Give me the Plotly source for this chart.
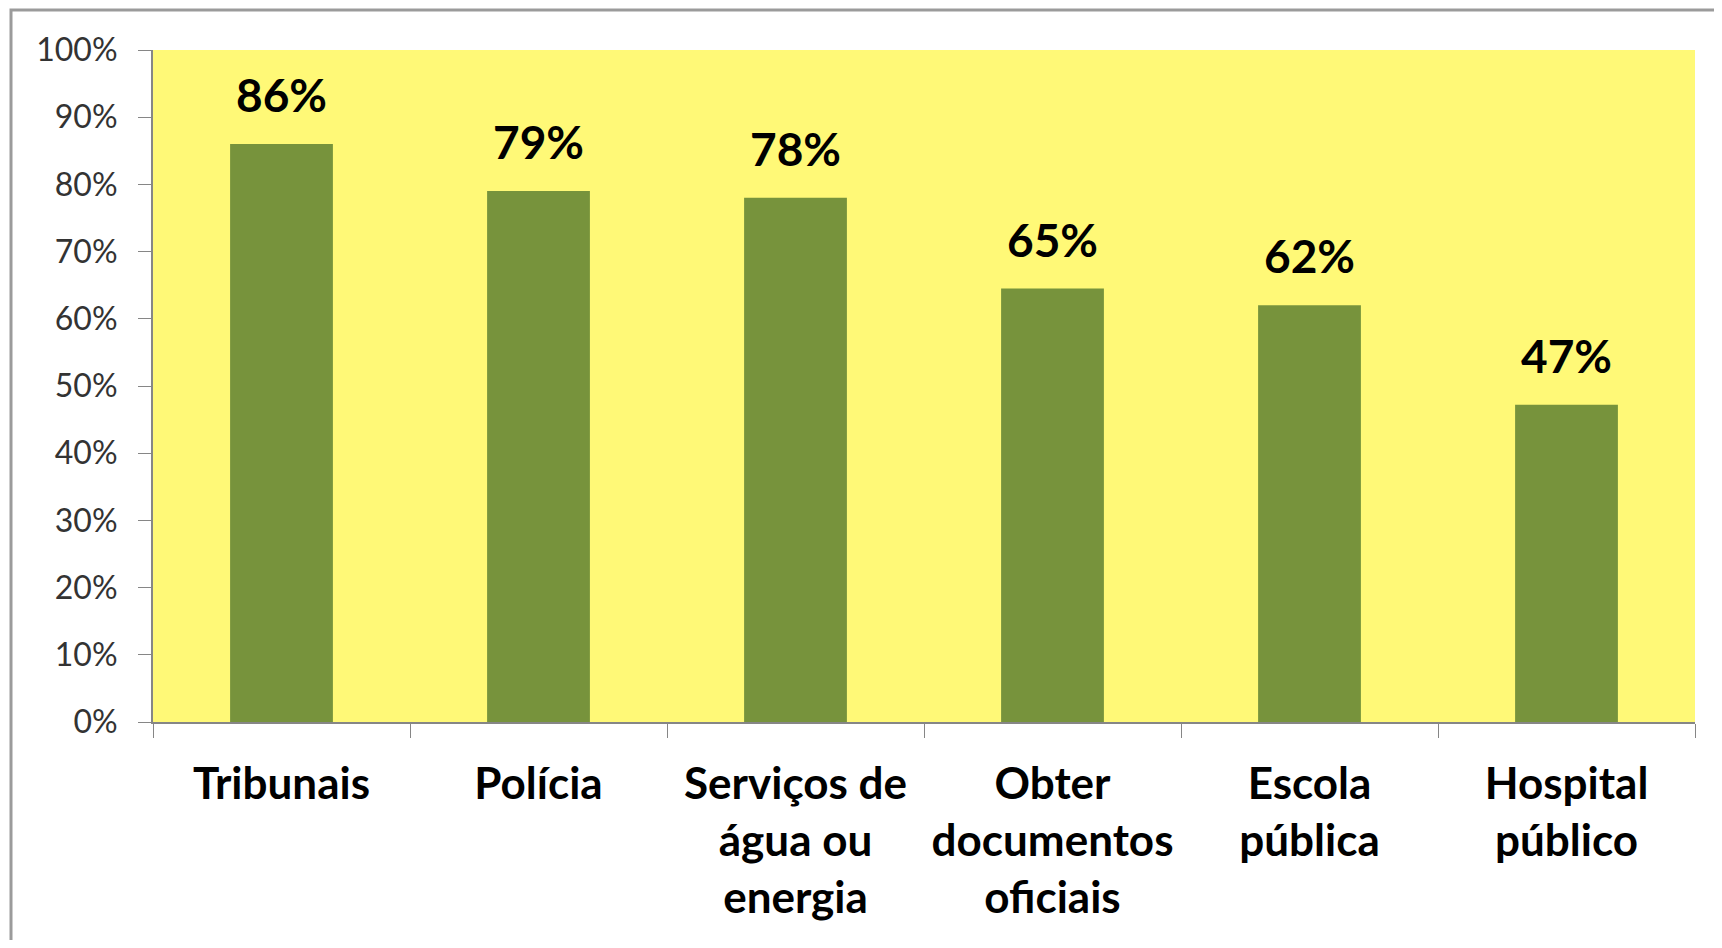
import plotly.graph_objects as go

# Data
categories = ["Tribunais", "Polícia", "Serviços de água ou energia",
              "Obter documentos oficiais", "Escola pública", "Hospital público"]
tick_labels = ["Tribunais", "Polícia", "Serviços de<br>água ou<br>energia",
               "Obter<br>documentos<br>oficiais", "Escola<br>pública", "Hospital<br>público"]
values = [0.86, 0.79, 0.78, 0.645, 0.62, 0.472]
value_labels = ["86%", "79%", "78%", "65%", "62%", "47%"]

FONT = "Lato, 'Open Sans', sans-serif"
# the page body adds an 8px margin, so the figure is a bit smaller than the window
PAD = 8
W, H = 1722 - 2 * PAD, 948 - 2 * PAD
ML, MT = 153 - PAD, 50 - PAD
MR = W - (1695 - PAD)
MB = H - (722 - PAD)

fig = go.Figure(go.Bar(
    x=categories,
    y=values,
    marker_color="#77933C",
    marker_line_width=0,
    hoverinfo="skip",
))

# value labels floating above each bar
for cat, val, lab in zip(categories, values, value_labels):
    fig.add_annotation(
        x=cat, y=val, text=f"<b>{lab}</b>",
        showarrow=False, yanchor="bottom", yshift=20,
        font=dict(family=FONT, size=46, color="#000000"),
    )

# grey frame of the original chart box (only top/left visible)
pw, ph = W - ML - MR, H - MT - MB
fig.add_shape(
    type="rect", xref="paper", yref="paper",
    x0=(11 - PAD - ML) / pw, x1=(W + 20 - ML) / pw,
    y0=-(MB + 20) / ph, y1=(H - MB - (10 - PAD)) / ph,
    line=dict(color="#9b9b9b", width=3), fillcolor="rgba(0,0,0,0)",
    layer="below",
)

fig.update_layout(
    width=W, height=H,
    margin=dict(l=ML, r=MR, t=MT, b=MB),
    paper_bgcolor="#ffffff",
    plot_bgcolor="#FFF977",
    bargap=0.6,
    showlegend=False,
    font=dict(family=FONT),
)

fig.update_xaxes(
    tickmode="array", tickvals=categories, ticktext=tick_labels,
    tickson="boundaries", ticks="outside", ticklen=14, tickcolor="#868686",
    showline=True, linecolor="#868686", linewidth=2,
    tickfont=dict(family=FONT, size=44, color="#000000", weight="bold"),
    ticklabelstandoff=22,
    showgrid=False, automargin=False,
)
fig.update_yaxes(
    range=[0, 1], dtick=0.1, tickformat=".0%",
    ticks="outside", ticklen=13, tickcolor="#868686",
    showline=True, linecolor="#868686", linewidth=2,
    tickfont=dict(family=FONT, size=32, color="#333333"),
    ticklabelstandoff=14,
    showgrid=False, zeroline=False, automargin=False,
)

fig.write_html("out.html")
